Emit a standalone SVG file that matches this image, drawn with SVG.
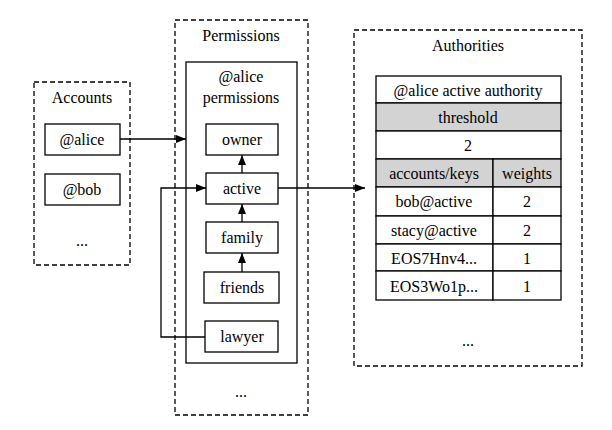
<svg xmlns="http://www.w3.org/2000/svg" width="612" height="430" viewBox="0 0 612 430">
<style>
text{font-family:"Liberation Serif","Times New Roman",serif;font-size:16px;fill:#000;text-anchor:middle}
.cl{fill:none;stroke:#000;stroke-width:1.3;stroke-dasharray:5,3}
.n{fill:#fff;stroke:#000;stroke-width:1.3}
.g{fill:#d3d3d3;stroke:#000;stroke-width:1.3}
.e{fill:none;stroke:#000;stroke-width:1.3}
</style>
<defs><marker id="a" markerWidth="10" markerHeight="8" refX="10" refY="4" orient="auto" markerUnits="userSpaceOnUse"><path d="M0,0 L10,4 L0,8 z" fill="#000"/></marker></defs>
<g id="accounts"><rect class="cl" x="34" y="82" width="96" height="183"/><text x="82" y="103">Accounts</text><text x="82" y="246">...</text></g>
<g id="permissions"><rect class="cl" x="175" y="20" width="133" height="395"/><text x="241" y="41">Permissions</text><text x="241" y="397">...</text></g>
<g id="authorities"><rect class="cl" x="354" y="30" width="228" height="336"/><text x="468" y="51">Authorities</text><text x="468" y="346">...</text></g>
<g id="alice"><rect class="n" x="45" y="124" width="75" height="31"/><text x="82" y="145">@alice</text></g>
<g id="bob"><rect class="n" x="45" y="174" width="75" height="31"/><text x="82" y="195">@bob</text></g>
<g id="alice_perms"><rect class="n" x="186" y="62" width="111" height="301"/><text x="241" y="82">@alice</text><text x="241" y="103">permissions</text></g>
<g id="owner"><rect class="n" x="206" y="124" width="72" height="31"/><text x="242" y="145">owner</text></g>
<g id="active"><rect class="n" x="206" y="173" width="72" height="31"/><text x="242" y="194">active</text></g>
<g id="family"><rect class="n" x="206" y="222" width="72" height="31"/><text x="242" y="243">family</text></g>
<g id="friends"><rect class="n" x="204" y="272" width="75" height="31"/><text x="242" y="293">friends</text></g>
<g id="lawyer"><rect class="n" x="205" y="321" width="73" height="31"/><text x="242" y="342">lawyer</text></g>
<g id="authority_table">
<rect class="n" x="376" y="76" width="185" height="27"/><text x="468" y="96">@alice active authority</text>
<rect class="g" x="376" y="103" width="185" height="28"/><text x="468" y="123">threshold</text>
<rect class="n" x="376" y="131" width="185" height="28"/><text x="468" y="151">2</text>
<rect class="g" x="376" y="159" width="117" height="28"/><text x="434" y="179">accounts/keys</text>
<rect class="g" x="493" y="159" width="68" height="28"/><text x="527" y="179">weights</text>
<rect class="n" x="376" y="187" width="117" height="29"/><text x="434" y="207">bob@active</text>
<rect class="n" x="493" y="187" width="68" height="29"/><text x="527" y="207">2</text>
<rect class="n" x="376" y="216" width="117" height="28"/><text x="434" y="236">stacy@active</text>
<rect class="n" x="493" y="216" width="68" height="28"/><text x="527" y="236">2</text>
<rect class="n" x="376" y="244" width="117" height="27"/><text x="434" y="264">EOS7Hnv4...</text>
<rect class="n" x="493" y="244" width="68" height="27"/><text x="527" y="264">1</text>
<rect class="n" x="376" y="271" width="117" height="29"/><text x="434" y="292">EOS3Wo1p...</text>
<rect class="n" x="493" y="271" width="68" height="29"/><text x="527" y="292">1</text>
</g>
<g id="connectors">
<path class="e" d="M120,139 H186" marker-end="url(#a)"/>
<path class="e" d="M242,173 V155" marker-end="url(#a)"/>
<path class="e" d="M242,222 V204" marker-end="url(#a)"/>
<path class="e" d="M242,272 V253" marker-end="url(#a)"/>
<path class="e" d="M205,337 H161 V188 H206" marker-end="url(#a)"/>
<path class="e" d="M278,188 H365" marker-end="url(#a)"/>
</g>
</svg>
